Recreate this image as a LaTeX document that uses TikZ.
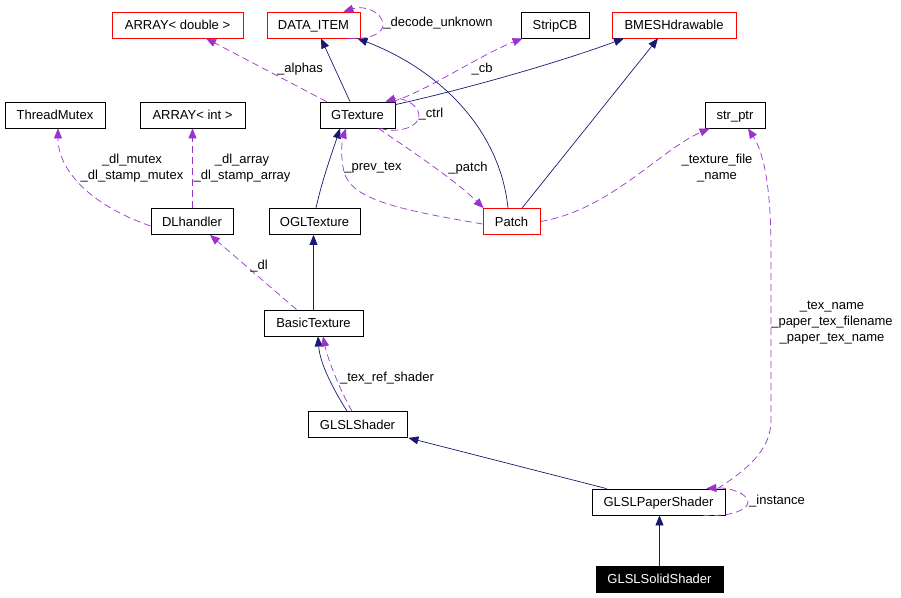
\documentclass[tikz,border=0pt]{standalone}
\usepackage{fontspec}
\setmainfont{Liberation Sans}
\usetikzlibrary{arrows.meta}
\definecolor{inhblue}{HTML}{191970}
\definecolor{usepurple}{HTML}{9A32CD}
\begin{document}
\begin{tikzpicture}[x=1pt,y=-1pt,
  cls/.style={draw=black, line width=0.8pt, fill=white, minimum height=26pt, inner sep=0pt,
    text height=10pt, text depth=1pt, font=\fontsize{13}{16}\selectfont},
  redcls/.style={cls, draw=red},
  lbl/.style={inner sep=0pt, align=center, font=\fontsize{13}{16}\selectfont},
  inh/.style={draw=inhblue, line width=0.7pt, -{Triangle[length=10pt,width=8pt]}},
  use/.style={draw=usepurple, line width=0.7pt, dash pattern=on 7pt off 4pt,
    -{Triangle[length=10pt,width=8pt]}}]
\useasboundingbox (0,0) rectangle (901,597);
% nodes
\node[redcls, minimum width=131pt] (ARRd) at (177.5,25) {ARRAY< double >};
\node[redcls, minimum width=93pt]  (DATA) at (313.5,25) {DATA\_ITEM};
\node[cls, minimum width=68pt]     (Strip) at (555,25) {StripCB};
\node[redcls, minimum width=124pt] (BMESH) at (674,25) {BMESHdrawable};
\node[cls, minimum width=100pt] (TM) at (55,115) {ThreadMutex};
\node[cls, minimum width=105pt] (ARRi) at (192.5,115) {ARRAY< int >};
\node[cls, minimum width=75pt]  (GT) at (357.5,115) {GTexture};
\node[cls, minimum width=60pt]  (SP) at (735,115) {str\_ptr};
\node[cls, minimum width=82pt]  (DL) at (192,221.5) {DLhandler};
\node[cls, minimum width=91pt]  (OGL) at (314.5,221.5) {OGLTexture};
\node[redcls, minimum width=57pt] (Patch) at (511.5,221.5) {Patch};
\node[cls, minimum width=99pt]  (BT) at (313.5,323) {BasicTexture};
\node[cls, minimum width=99pt]  (GS) at (357.5,424.5) {GLSLShader};
\node[cls, minimum width=133pt] (GPS) at (658.5,502) {GLSLPaperShader};
\node[cls, minimum width=127pt, fill=black, text=white] (GSS) at (659.5,579) {GLSLSolidShader};
% inheritance edges
\draw[inh] ([xshift=-7.5pt]GT.north) -- ([xshift=7.5pt]DATA.south);
\draw[inh] ([yshift=-3pt]GT.north east) .. controls (470,88) and (560,62) .. ([xshift=-50pt]BMESH.south);
\draw[inh] ([xshift=-3.5pt]Patch.north) .. controls (500,130) and (440,70) .. ([xshift=-3pt]DATA.south east);
\draw[inh] ([xshift=10.5pt]Patch.north) -- ([xshift=-16pt]BMESH.south);
\draw[inh] ([xshift=1.5pt]OGL.north) .. controls (322,180) and (333,150) .. ([xshift=-17.5pt]GT.south);
\draw[inh] (BT.north) -- (BT.north |- OGL.south);
\draw[inh] ([xshift=-10.5pt]GS.north) .. controls (335,392) and (320,365) .. ([xshift=4.5pt]BT.south);
\draw[inh] ([xshift=15pt]GPS.north west) -- ([xshift=1pt]GS.south east);
\draw[inh] (GSS.north) -- (GSS.north |- GPS.south);
% usage edges
\draw[use] ([xshift=7pt]GT.north west) -- ([xshift=28.5pt]ARRd.south);
\node[lbl] (l_alphas) at (300,69) {\_alphas};
\draw[use] ([xshift=-12pt]DATA.south east) .. controls (372,40) and (384,32) .. (383,24)
  .. controls (382,12) and (365,5) .. ([xshift=-17pt]DATA.north east);
\node[lbl] (l_dec) at (438,23) {\_decode\_unknown};
\draw[use] ([xshift=-3pt]GT.north east) .. controls (425,92) and (480,55) .. ([xshift=2pt]Strip.south west);
\node[lbl] (l_cb) at (482,69) {\_cb};
\draw[use] ([xshift=-15pt]GT.south east) .. controls (400,134) and (420,126) .. (419,115)
  .. controls (418,103) and (400,97) .. ([xshift=-10pt]GT.north east);
\node[lbl] (l_ctrl) at (431,114) {\_ctrl};
\draw[use] ([xshift=-17pt]GT.south east) .. controls (410,150) and (455,180) .. ([xshift=1pt]Patch.north west);
\node[lbl] (l_patch) at (468,168) {\_patch};
\draw[use] ([yshift=-2.5pt]Patch.west) .. controls (400,210) and (355,200) .. (345,175)
  .. controls (340,160) and (342,140) .. ([xshift=-11.5pt]GT.south);
\node[lbl] (l_prev) at (373,168) {\_prev\_tex};
\draw[use] (Patch.east) .. controls (610,210) and (660,150) .. ([xshift=5pt]SP.south west);
\node[lbl] (l_tex) at (717,168) {\_texture\_file\\\_name};
\draw[use] ([yshift=-4.5pt]DL.west) .. controls (90,205) and (58,170) .. ([xshift=3pt]TM.south);
\node[lbl] (l_mutex) at (132,168) {\_dl\_mutex\\\_dl\_stamp\_mutex};
\draw[use] ([xshift=0.5pt]DL.north) -- ([xshift=0.5pt]DL.north |- ARRi.south);
\node[lbl] (l_array) at (242,168) {\_dl\_array\\\_dl\_stamp\_array};
\draw[use] ([xshift=33pt]BT.north west) -- ([xshift=18pt]DL.south);
\node[lbl] (l_dl) at (259,266) {\_dl};
\draw[use] ([xshift=-5.5pt]GS.north) .. controls (340,390) and (328,360) .. ([xshift=9.5pt]BT.south);
\node[lbl] (l_ref) at (387,378) {\_tex\_ref\_shader};
\draw[use] ([xshift=-8pt]GPS.north east) .. controls (755,465) and (771,445) .. (771,420)
  -- (771,250) .. controls (771,180) and (762,150) .. ([xshift=13pt]SP.south);
\node[lbl] (l_texname) at (832,323) {\_tex\_name\\\_paper\_tex\_filename\\\_paper\_tex\_name};
\draw[use] ([xshift=-22pt]GPS.south east) .. controls (730,517) and (748,510) .. (748,502)
  .. controls (748,494) and (730,487) .. ([xshift=-19pt]GPS.north east);
\node[lbl] (l_inst) at (777,501) {\_instance};
\end{tikzpicture}
\end{document}
